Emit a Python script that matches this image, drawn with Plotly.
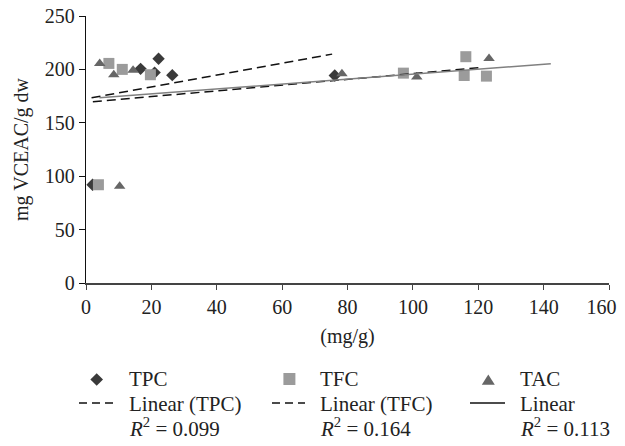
import plotly.graph_objects as go

# Scatter data (x in mg/g, y in mg VCEAC/g dw)
tpc_x = [2.0, 16.7, 21.0, 22.2, 26.4, 76.1]
tpc_y = [92, 200.5, 197, 210, 194.6, 194.3]
tfc_x = [3.8, 7.0, 11.1, 19.7, 97.1, 115.7, 116.2, 122.5]
tfc_y = [92, 205.6, 200, 195, 196.5, 194.3, 211.9, 193.7]
tac_x = [4.2, 8.5, 10.3, 14.4, 78.3, 101.2, 123.3]
tac_y = [205.6, 195, 90.5, 199.3, 196, 193, 210.3]

# Linear trend endpoints
trend_tpc_x = [1.7, 75.3]
trend_tpc_y = [173.4, 214.3]
trend_tfc_x = [2.1, 120.5]
trend_tfc_y = [169.7, 201.6]
trend_tac_x = [4.1, 142.2]
trend_tac_y = [173.4, 205.3]

x_ticks = [0, 20, 40, 60, 80, 100, 120, 140, 160]
x_tick_text = ["0", "20", "40", "60", "80", "100", "120", "140", "160\u00a0\u00a0\u00a0"]
y_ticks = [0, 50, 100, 150, 200, 250]

legend_labels = ["TPC", "TFC", "TAC"]
trend_labels = ["Linear (TPC)", "Linear (TFC)", "Linear"]
r2_labels = ["<i>R</i><sup>2</sup> = 0.099", "<i>R</i><sup>2</sup> = 0.164",
             "<i>R</i><sup>2</sup> = 0.113"]

FONT = "Liberation Serif"
TXT = "#222222"
C_TPC, C_TFC, C_TAC = "#3a3a3a", "#9b9b9b", "#666666"

OFF = 8                   # page body margin
W, H = 625 - 2 * OFF, 446 - 2 * OFF
PL, PR, PT, PB = 86 - OFF, 609 - OFF, 16 - OFF, 283 - OFF

def px(X):
    return (X - OFF - PL) / (PR - PL)

def py(Y):
    return (PB - (Y - OFF)) / (PB - PT)

fig = go.Figure()
fig.add_trace(go.Scatter(x=tpc_x, y=tpc_y, mode="markers", name="TPC",
                         marker=dict(symbol="diamond", size=9.5, color=C_TPC)))
fig.add_trace(go.Scatter(x=tfc_x, y=tfc_y, mode="markers", name="TFC",
                         marker=dict(symbol="square", size=11, color=C_TFC)))
fig.add_trace(go.Scatter(x=tac_x, y=tac_y, mode="markers", name="TAC",
                         marker=dict(symbol="triangle-up", size=10, color=C_TAC)))
fig.add_trace(go.Scatter(x=trend_tpc_x, y=trend_tpc_y, mode="lines", name="Linear (TPC)",
                         line=dict(color="#111111", width=1.5, dash="9px,5px")))
fig.add_trace(go.Scatter(x=trend_tfc_x, y=trend_tfc_y, mode="lines", name="Linear (TFC)",
                         line=dict(color="#111111", width=1.5, dash="9px,5px")))
fig.add_trace(go.Scatter(x=trend_tac_x, y=trend_tac_y, mode="lines", name="Linear (TAC)",
                         line=dict(color="#808080", width=1.5)))

# ---- manual legend (3 columns) ----
text_x = [127, 318, 518]
row_y = [379, 403.5, 427.5]
annotations = []
for i in range(3):
    for lbl, yy in zip([legend_labels[i], trend_labels[i], r2_labels[i]], row_y):
        annotations.append(dict(text=lbl, xref="paper", yref="paper",
                                x=px(text_x[i]), y=py(yy), xanchor="left",
                                yanchor="middle", showarrow=False,
                                font=dict(family=FONT, size=21, color=TXT)))

shapes = []
def path_shape(pts, color):
    d = "M" + " L".join(f"{px(a):.5f},{py(b):.5f}" for a, b in pts) + " Z"
    return dict(type="path", xref="paper", yref="paper", path=d,
                fillcolor=color, line=dict(width=0))

# diamond
cx, cy, r = 96.7, 379.5, 6.3
shapes.append(path_shape([(cx, cy - r), (cx + r, cy), (cx, cy + r), (cx - r, cy)], C_TPC))
# square
cx, cy, r = 289.4, 379.0, 6.0
shapes.append(path_shape([(cx - r, cy - r), (cx + r, cy - r), (cx + r, cy + r), (cx - r, cy + r)], C_TFC))
# triangle
cx = 488.3
shapes.append(path_shape([(cx, 374.5), (cx + 6.5, 384.7), (cx - 6.5, 384.7)], C_TAC))
# legend lines
for x0, x1, dash in [(79, 113, "8px,5px"), (272, 305, "8px,5px"), (470, 505, "solid")]:
    shapes.append(dict(type="line", xref="paper", yref="paper",
                       x0=px(x0), x1=px(x1), y0=py(403), y1=py(403),
                       line=dict(color="#111111", width=1.6, dash=dash)))

fig.update_layout(
    width=W, height=H,
    margin=dict(l=PL, r=W - PR, t=PT, b=H - PB, autoexpand=False),
    paper_bgcolor="white", plot_bgcolor="white",
    font=dict(family=FONT, size=20, color=TXT),
    showlegend=False,
    annotations=annotations, shapes=shapes,
    xaxis=dict(range=[0, 160], tickvals=x_ticks, ticktext=x_tick_text,
               showgrid=False, zeroline=False,
               showline=True, linecolor="#444444", linewidth=2,
               ticks="outside", ticklen=5, tickcolor="#444444",
               ticklabeloverflow="allow",
               tickfont=dict(size=20),
               title=dict(text="(mg/g)", standoff=12, font=dict(size=20))),
    yaxis=dict(range=[0, 250], tickvals=y_ticks, showgrid=False, zeroline=False,
               showline=True, linecolor="#111111", linewidth=1.3,
               ticks="outside", ticklen=6, tickcolor="#111111",
               ticklabeloverflow="allow",
               tickfont=dict(size=20),
               title=dict(text="mg VCEAC/g dw", standoff=10, font=dict(size=20))),
)
fig.write_html("out.html")
